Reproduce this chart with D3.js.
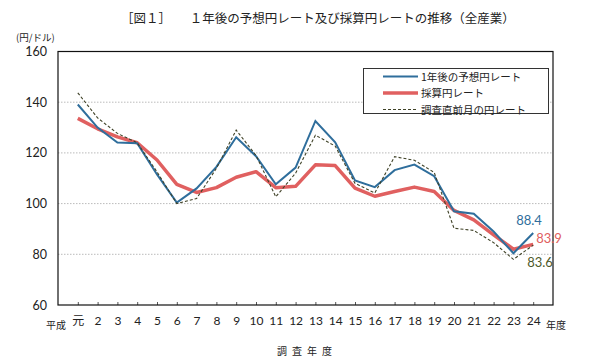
<!DOCTYPE html>
<html><head><meta charset="utf-8">
<script src="https://cdn.jsdelivr.net/npm/d3@7"></script>
<style>body{margin:0;background:#fff}svg{display:block}</style>
</head><body>
<svg id="c" width="590" height="359"></svg>
<script>
const years = ["元","2","3","4","5","6","7","8","9","10","11","12","13","14","15","16","17","18","19","20","21","22","23","24"];
const expected = [139.1,130,124.1,123.8,111.5,100.4,106,114.5,126.2,118.7,107.6,114.2,132.6,124.2,109.1,106.5,113.2,115.4,110.8,97,96,89,80.4,88.4];
const saisan = [133.6,129.5,126.3,124,117.2,107.6,104.4,106.3,110.4,112.6,106.3,106.8,115.3,115,106.1,102.9,104.8,106.5,104.8,97.3,93.6,87.7,82,83.9];
const spot = [143.7,133.8,127.7,124,112.5,100,102,113.9,129,119,102.7,112,127,122.7,108,104.2,118.5,117.1,112.3,90.3,89.4,84.6,78,83.6];
const yTicks = [60,80,100,120,140,160];
const seriesNames = ["1年後の予想円レート","採算円レート","調査直前月の円レート"];

const svg = d3.select("#c");
const L=58,R=553,T=51.5,B=305;
const x = d3.scaleLinear().domain([0,years.length+1]).range([L,R]);
const y = d3.scaleLinear().domain([60,160]).range([B,T]);
const jp = "'Noto Sans CJK JP', sans-serif";
const num = "Lato, 'Noto Sans', sans-serif";

svg.append("text").attr("x",318).attr("y",23).attr("text-anchor","middle")
  .attr("font-family",jp).attr("font-size",12.5).attr("fill","#222")
  .text("［図１］　　１年後の予想円レート及び採算円レートの推移（全産業）");
svg.append("text").attr("x",16).attr("y",41).attr("font-family",jp).attr("font-size",9.5).attr("fill","#222").text("(円/ドル)");

// grid
svg.append("g").selectAll("line").data(yTicks.filter(d=>d>60&&d<160)).join("line")
  .attr("x1",L).attr("x2",R).attr("y1",d=>y(d)).attr("y2",d=>y(d))
  .attr("stroke","#bbb").attr("stroke-width",1).attr("stroke-dasharray","1.5,1.5");

// y axis labels
const yAxis = d3.axisLeft(y).tickValues(yTicks).tickSize(0).tickPadding(11);
const gy = svg.append("g").attr("transform",`translate(${L},0)`).call(yAxis);
gy.select(".domain").remove();
gy.selectAll("text").attr("font-family",num).attr("font-size",12.5).attr("fill","#222");

// x axis
const xAxis = d3.axisBottom(x).tickValues(d3.range(1,years.length+1)).tickFormat(i=>years[i-1]).tickSize(-3).tickPadding(11);
const gx = svg.append("g").attr("transform",`translate(0,${B})`).call(xAxis);
gx.select(".domain").remove();
gx.selectAll("line").attr("stroke","#555");
gx.selectAll("text").attr("font-family",d=>d===1?jp:num).attr("font-size",12).attr("fill","#222");
svg.append("text").attr("x",46).attr("y",329).attr("font-family",jp).attr("font-size",10).attr("fill","#222").text("平成");
svg.append("text").attr("x",546).attr("y",329).attr("font-family",jp).attr("font-size",10).attr("fill","#222").text("年度");
svg.append("text").attr("x",307).attr("y",355).attr("text-anchor","middle").attr("font-family",jp).attr("font-size",10).attr("letter-spacing",5).attr("fill","#222").text("調査年度");

// frame
svg.append("rect").attr("x",L).attr("y",T).attr("width",R-L).attr("height",B-T)
  .attr("fill","none").attr("stroke","#111").attr("stroke-width",1.2);

const line = d3.line().x((d,i)=>x(i+1)).y(d=>y(d));
svg.append("path").datum(saisan).attr("d",line).attr("fill","none").attr("stroke","#E06060").attr("stroke-width",3.5).attr("stroke-linejoin","round");
svg.append("path").datum(expected).attr("d",line).attr("fill","none").attr("stroke","#2F6E9C").attr("stroke-width",2);
svg.append("path").datum(spot).attr("d",line).attr("fill","none").attr("stroke","#3F4227").attr("stroke-width",1.1).attr("stroke-dasharray","3,2");

// end labels
const n = years.length;
svg.append("text").attr("x",x(n)-17).attr("y",y(expected[n-1])-8).attr("font-family",num).attr("font-size",13).attr("fill","#2F6E9C").text(expected[n-1]);
svg.append("text").attr("x",x(n)+3).attr("y",y(saisan[n-1])-1).attr("font-family",num).attr("font-size",13).attr("fill","#E06060").text(saisan[n-1]);
svg.append("text").attr("x",x(n)-6).attr("y",y(spot[n-1])+22).attr("font-family",num).attr("font-size",13).attr("fill","#4E5A2A").text(spot[n-1]);

// legend
const lg = svg.append("g");
lg.append("rect").attr("x",363.5).attr("y",68.5).attr("width",185).attr("height",45).attr("fill","#fff").attr("stroke","#333").attr("stroke-width",1);
const styles = [
  {c:"#2F6E9C",w:2,d:null},
  {c:"#E06060",w:3.5,d:null},
  {c:"#3F4227",w:1.1,d:"3,2"}
];
seriesNames.forEach((s,i)=>{
  const yy = 76.5 + i*16.5;
  lg.append("line").attr("x1",383).attr("x2",418).attr("y1",yy).attr("y2",yy)
    .attr("stroke",styles[i].c).attr("stroke-width",styles[i].w).attr("stroke-dasharray",styles[i].d);
  lg.append("text").attr("x",421).attr("y",yy+4).attr("font-family",jp).attr("font-size",10.5).attr("fill","#222").text(s);
});
</script>
</body></html>
